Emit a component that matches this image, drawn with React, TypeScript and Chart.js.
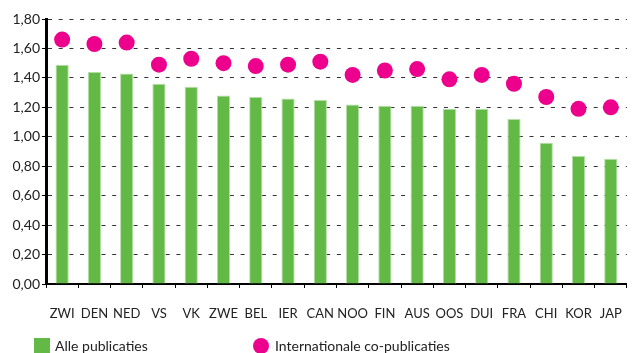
import React, { useEffect, useRef } from "react";
import { Chart, registerables } from "chart.js";

Chart.register(...registerables);

const categories = ["ZWI", "DEN", "NED", "VS", "VK", "ZWE", "BEL", "IER", "CAN", "NOO", "FIN", "AUS", "OOS", "DUI", "FRA", "CHI", "KOR", "JAP"];
const allePublicaties = [1.49, 1.44, 1.43, 1.36, 1.34, 1.28, 1.27, 1.26, 1.25, 1.22, 1.21, 1.21, 1.19, 1.19, 1.12, 0.96, 0.87, 0.85];
const internationaleCoPublicaties = [1.66, 1.63, 1.64, 1.49, 1.53, 1.5, 1.48, 1.49, 1.51, 1.42, 1.45, 1.46, 1.39, 1.42, 1.36, 1.27, 1.19, 1.2];
const seriesNames = ["Alle publicaties", "Internationale co-publicaties"];
const yMin = 0;
const yMax = 1.8;
const yStep = 0.2;

const GREEN = "#62b946";
const MAGENTA = "#ec008c";
const FONT = "Lato";

export default function App() {
  const ref = useRef<HTMLCanvasElement | null>(null);
  useEffect(() => {
    if (!ref.current) return;
    const chart = new Chart(ref.current, {
      type: "bar",
      data: {
        labels: categories,
        datasets: [
          {
            type: "line",
            label: seriesNames[1],
            data: internationaleCoPublicaties,
            showLine: false,
            pointRadius: 8,
            pointHoverRadius: 8,
            pointBackgroundColor: MAGENTA,
            pointBorderColor: MAGENTA,
            pointBorderWidth: 0,
            borderColor: MAGENTA,
            backgroundColor: MAGENTA,
            order: 0,
          },
          {
            type: "bar",
            label: seriesNames[0],
            data: allePublicaties,
            backgroundColor: GREEN,
            borderColor: "#b5dea6",
            borderWidth: 1,
            categoryPercentage: 1,
            barPercentage: 0.41,
            order: 1,
          },
        ],
      },
      options: {
        responsive: false,
        animation: false,
        devicePixelRatio: 1,
        layout: { padding: { top: 19, right: 4, left: 0, bottom: 0 } },
        plugins: { legend: { display: false }, tooltip: { enabled: false } },
        scales: {
          x: {
            offset: true,
            grid: {
              display: true,
              drawOnChartArea: false,
              drawTicks: true,
              tickLength: 4,
              color: "#000",
              offset: true,
            },
            border: { display: true, color: "#000", width: 2 },
            ticks: {
              color: "#222",
              font: { family: FONT, size: 13 },
              padding: 18,
              maxRotation: 0,
              autoSkip: false,
            },
            afterFit: (s: any) => {
              s.height = 69;
            },
          },
          y: {
            min: yMin,
            max: yMax,
            grid: {
              color: "#333",
              lineWidth: 1,
              tickLength: 4,
              tickColor: "#000",
              tickBorderDash: [],
            },
            border: { display: true, color: "#000", width: 3, dash: [4, 6.7] },
            ticks: {
              stepSize: yStep,
              color: "#222",
              font: { family: FONT, size: 14 },
              padding: 2,
              callback: (v: any) => Number(v).toFixed(2).replace(".", ","),
            },
            afterFit: (s: any) => {
              s.width = 46;
            },
          },
        },
      },
    });
    return () => chart.destroy();
  }, []);

  const legendText: React.CSSProperties = {
    position: "absolute",
    top: 337,
    fontFamily: FONT,
    fontSize: 14,
    color: "#222",
    lineHeight: "18px",
    whiteSpace: "nowrap",
  };

  return (
    <div style={{ position: "fixed", left: 0, top: 0, width: 633, height: 353, overflow: "hidden", background: "#fff" }}>
      <canvas ref={ref} width={640} height={353} style={{ width: 640, height: 353, display: "block" }} />
      <div style={{ position: "absolute", left: 34, top: 338, width: 16, height: 16, background: GREEN }} />
      <div style={{ ...legendText, left: 55 }}>{seriesNames[0]}</div>
      <div style={{ position: "absolute", left: 253, top: 338, width: 16, height: 16, borderRadius: 8, background: MAGENTA }} />
      <div style={{ ...legendText, left: 275 }}>{seriesNames[1]}</div>
    </div>
  );
}
